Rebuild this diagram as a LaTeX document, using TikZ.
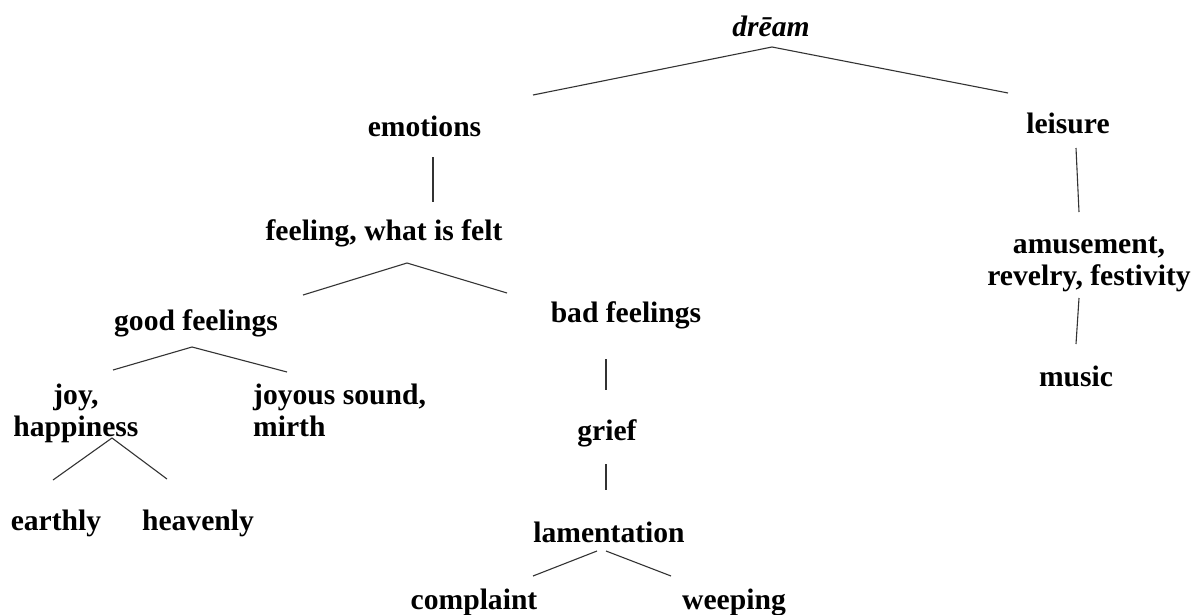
\documentclass[tikz,border=0pt]{standalone}
\usepackage{fontspec}
\setmainfont{Liberation Serif}
\begin{document}
\begin{tikzpicture}[x=1pt,y=-1pt,
  lbl/.style={inner sep=0pt,anchor=base,font=\fontsize{29.6}{32}\selectfont\bfseries},
  lblL/.style={lbl,anchor=base west},
  edge/.style={line width=1.1pt,draw=black!80}]
\useasboundingbox[fill=white] (0,0) rectangle (1199,615);
\newcommand{\twol}[3]{\begin{tabular}[t]{@{}#1@{}}#2\\#3\end{tabular}}
% nodes
\node[lbl] (dream) at (771,37) {\itshape drēam};
\node[lbl] (emotions) at (424.5,137) {emotions};
\node[lbl] (leisure) at (1068,134) {leisure};
\node[lbl] (feeling) at (384,240) {feeling, what is felt};
\node[lbl] (amuse) at (1089,253) {\twol{c}{amusement,}{revelry, festivity}};
\node[lbl] (good) at (196,330) {good feelings};
\node[lbl] (bad) at (626,322) {bad feelings};
\node[lbl] (joy) at (76,404) {\twol{c}{joy,}{happiness}};
\node[lblL] (joyous) at (253,404) {\twol{l}{joyous sound,}{mirth}};
\node[lbl] (earthly) at (56,530) {earthly};
\node[lbl] (heavenly) at (198,530) {heavenly};
\node[lbl] (grief) at (607,440) {grief};
\node[lbl] (lament) at (609,542) {lamentation};
\node[lbl] (music) at (1076,386) {music};
\node[lbl] (complaint) at (474,609) {complaint};
\node[lbl] (weeping) at (734,609) {weeping};
% connector points
\coordinate (dream-j) at (772,47);
\coordinate (emotions-t) at (533,95);
\coordinate (leisure-t) at (1008,93);
\coordinate (emotions-b) at (433,157);
\coordinate (feeling-t) at (433,202);
\coordinate (leisure-b) at (1076,148);
\coordinate (amuse-t) at (1079,212);
\coordinate (amuse-b) at (1079,298);
\coordinate (music-t) at (1076,344);
\coordinate (feeling-j) at (407,263);
\coordinate (good-t) at (303,295);
\coordinate (bad-t) at (507,293);
\coordinate (good-j) at (192,347);
\coordinate (joy-t) at (113,370);
\coordinate (joyous-t) at (287,372);
\coordinate (joy-j) at (112,438);
\coordinate (earthly-t) at (53,480);
\coordinate (heavenly-t) at (167,479);
\coordinate (bad-b) at (606,359);
\coordinate (grief-t) at (606,390);
\coordinate (grief-b) at (606,464);
\coordinate (lament-t) at (606,490);
\coordinate (lament-jl) at (597,551);
\coordinate (lament-jr) at (606,551);
\coordinate (complaint-t) at (533,576);
\coordinate (weeping-t) at (671,576);
% connectors
\draw[edge] (emotions-t) -- (dream-j) -- (leisure-t);
\draw[edge] (emotions-b) -- (feeling-t);
\draw[edge] (leisure-b) -- (amuse-t);
\draw[edge] (amuse-b) -- (music-t);
\draw[edge] (good-t) -- (feeling-j) -- (bad-t);
\draw[edge] (joy-t) -- (good-j) -- (joyous-t);
\draw[edge] (earthly-t) -- (joy-j) -- (heavenly-t);
\draw[edge] (bad-b) -- (grief-t);
\draw[edge] (grief-b) -- (lament-t);
\draw[edge] (complaint-t) -- (lament-jl);
\draw[edge] (lament-jr) -- (weeping-t);
\end{tikzpicture}
\end{document}
